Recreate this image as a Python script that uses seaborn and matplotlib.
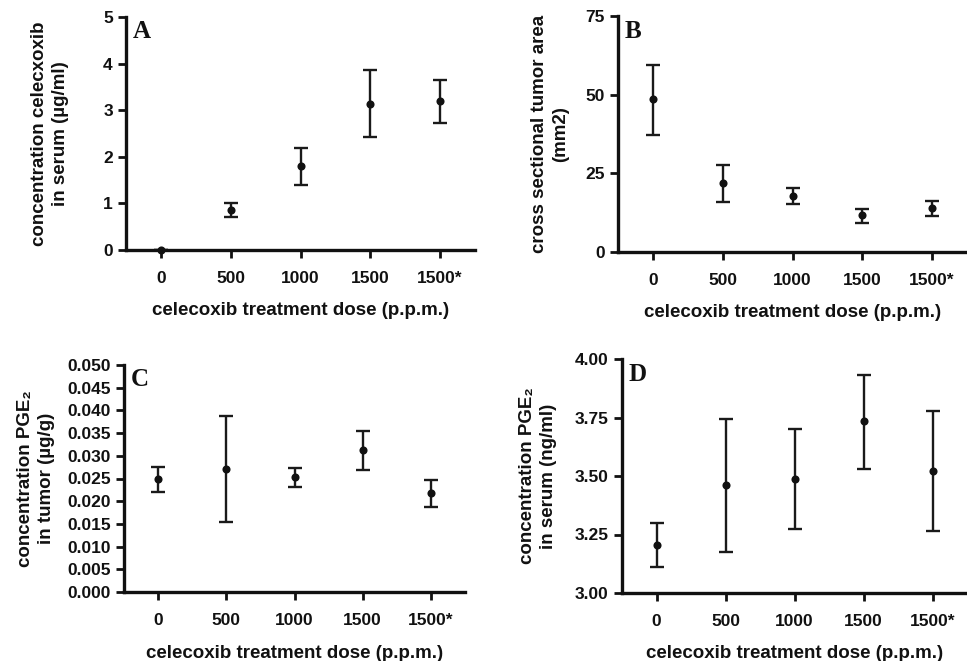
import numpy as np
import pandas as pd
import matplotlib
matplotlib.use("Agg")
import matplotlib.pyplot as plt
import seaborn as sns

# doses (categorical)
doses = ['0', '500', '1000', '1500', '1500*']

# A - celecoxib in serum (ug/ml)
serum_celecoxib = [0.0, 0.86, 1.80, 3.14, 3.19]
serum_celecoxib_lo = [0.0, 0.70, 1.40, 2.42, 2.72]
serum_celecoxib_hi = [0.0, 1.01, 2.18, 3.86, 3.64]

# B - tumor area (mm2)
tumor_area = [48.5, 21.8, 17.8, 11.7, 14.0]
tumor_area_lo = [37.3, 15.9, 15.1, 9.3, 11.4]
tumor_area_hi = [59.3, 27.5, 20.2, 13.6, 16.1]

# C - PGE2 in tumor (ug/g)
pge2_tumor = [0.0249, 0.0272, 0.0254, 0.0313, 0.0219]
pge2_tumor_lo = [0.0220, 0.0154, 0.0231, 0.0269, 0.0188]
pge2_tumor_hi = [0.0275, 0.0388, 0.0274, 0.0354, 0.0247]

# D - PGE2 in serum (ng/ml)
pge2_serum = [3.207, 3.462, 3.489, 3.734, 3.523]
pge2_serum_lo = [3.110, 3.175, 3.274, 3.530, 3.266]
pge2_serum_hi = [3.299, 3.744, 3.701, 3.930, 3.779]

sns.set_theme(style="ticks")
plt.rcParams['font.family'] = ['Liberation Sans', 'DejaVu Sans']
plt.rcParams['font.weight'] = 'bold'

W, H = 967, 661
fig = plt.figure(figsize=(W / 100, H / 100), dpi=100)


def px_axes(left, top, right, bottom):
    return fig.add_axes([left / W, 1 - bottom / H, (right - left) / W, (bottom - top) / H])


panels = [
    # (box, mean, lo, hi, ylim, yticks, ylabel, label_x_px, letter, fmt)
    ((126, 17, 475, 250), serum_celecoxib, serum_celecoxib_lo, serum_celecoxib_hi,
     (0, 5), np.arange(0, 6, 1), 'concentration celecxoxib\nin serum (µg/ml)', 50, 'A', '{:.0f}'),
    ((618, 16, 967, 252), tumor_area, tumor_area_lo, tumor_area_hi,
     (0, 75), np.arange(0, 76, 25), 'cross sectional tumor area\n(mm2)', 550, 'B', '{:.0f}'),
    ((124, 365, 465, 592), pge2_tumor, pge2_tumor_lo, pge2_tumor_hi,
     (0, 0.05), np.linspace(0, 0.05, 11), 'concentration PGE\u2082\nin tumor (µg/g)', 36, 'C', '{:.3f}'),
    ((622, 359, 967, 593), pge2_serum, pge2_serum_lo, pge2_serum_hi,
     (3.0, 4.0), np.arange(3.0, 4.01, 0.25), 'concentration PGE\u2082\nin serum (ng/ml)', 538, 'D', '{:.2f}'),
]

for box, mean, lo, hi, ylim, yticks, ylabel, label_x, letter, fmt in panels:
    ax = px_axes(*box)
    df = pd.DataFrame({'dose': doses, 'mean': mean, 'lo': lo, 'hi': hi})
    df['pos'] = np.arange(len(df))

    ax.errorbar(df['pos'], df['mean'],
                yerr=[df['mean'] - df['lo'], df['hi'] - df['mean']],
                fmt='none', ecolor='#1a1a1a', elinewidth=1.7, capsize=5, capthick=1.7,
                clip_on=False, zorder=2)
    sns.scatterplot(data=df, x='pos', y='mean', ax=ax, color='#111111', s=34,
                    edgecolor='#111111', linewidth=0, clip_on=False, zorder=3, legend=False)

    ax.set_xlim(-0.5, 4.5)
    ax.set_ylim(*ylim)
    ax.set_xticks(df['pos'])
    ax.set_xticklabels(doses)
    ax.set_yticks(yticks)
    ax.set_yticklabels([fmt.format(v) for v in yticks])
    sns.despine(ax=ax)
    for side in ['left', 'bottom']:
        ax.spines[side].set_linewidth(2.4)
        ax.spines[side].set_color('#111111')
    ax.tick_params(axis='both', width=2.0, length=6, color='#111111',
                   labelsize=12.5, labelcolor='#111111')
    ax.tick_params(axis='x', pad=9)
    for lab in ax.get_xticklabels() + ax.get_yticklabels():
        lab.set_fontweight('bold')

    ax.set_xlabel('celecoxib treatment dose (p.p.m.)', fontsize=13.5, fontweight='bold',
                  labelpad=12, color='#111111')
    ax.set_ylabel(ylabel, fontsize=13.5, fontweight='bold', color='#111111',
                  linespacing=1.3, va='center')
    width_px = box[2] - box[0]
    ax.yaxis.set_label_coords(-(box[0] - label_x) / width_px, 0.5)
    ax.text(0.02, 0.985, letter, transform=ax.transAxes, ha='left', va='top',
            fontsize=18, fontweight='bold', family='Liberation Serif', color='#111111')

fig.savefig('out.png', dpi=100)
